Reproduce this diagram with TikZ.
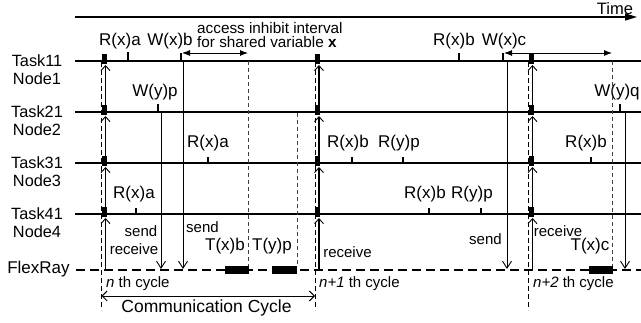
\documentclass[tikz,border=0pt]{standalone}
\usepackage{fontspec}
\setmainfont{Liberation Sans}
\usetikzlibrary{arrows.meta}
\begin{document}
\begin{tikzpicture}[x=1pt,y=-1pt,
  tline/.style={line width=2.3pt},
  tickmark/.style={line width=1.6pt},
  oplbl/.style={font=\fontsize{17}{19}\selectfont, inner sep=0pt, anchor=base},
  sidelbl/.style={font=\fontsize{16.3}{18}\selectfont, inner sep=0pt, anchor=base},
  smalllbl/.style={font=\fontsize{15}{17}\selectfont, inner sep=0pt, anchor=base},
  sendln/.style={line width=0.9pt, -{Straight Barb[length=7pt,width=9pt,line width=0.9pt]}},
  recvln/.style={line width=1.4pt, -{Straight Barb[length=5pt,width=9pt,line width=0.9pt]}},
  ivlend/.style={line width=0.8pt, dash pattern=on 4pt off 3pt, black!75},
  cycline/.style={line width=0.8pt, dash pattern=on 5pt off 3pt},
  ivlarrow/.style={line width=0.9pt, {Latex[length=8pt,width=6pt]}-{Latex[length=8pt,width=6pt]}},
  frame/.style={fill=black}
]
\useasboundingbox (0,0) rectangle (641,323);

% time axis
\coordinate (t0) at (75,17);
\coordinate (t1) at (637,17);
\draw[line width=1.3pt, -{Triangle[length=12pt,width=7pt]}] (t0) -- (t1);
\node[oplbl, font=\fontsize{16.5}{18}\selectfont] (time) at (615,15) {Time};

% task lines and their labels
\foreach \y/\k in {61/1, 112/2, 163/3, 214/4} {
  \coordinate (L\k) at (75,\y);
  \coordinate (R\k) at (641,\y);
  \draw[tline] (L\k) -- (R\k);
  \node[sidelbl] (task\k) at (37,\y+6) {Task\k1};
  \node[sidelbl] (node\k) at (37,\y+24) {Node\k};
}

% FlexRay bus
\coordinate (fl) at (76,270);
\coordinate (fr) at (641,270);
\draw[line width=2pt, dash pattern=on 9pt off 5pt] (fl) -- (fr);
\node[sidelbl, font=\fontsize{17}{19}\selectfont] (flexray) at (38.5,274) {FlexRay};

% cycle boundaries: dashed marker, frame markers and receive arrows
\foreach \c/\n in {104/a, 317.5/b, 531/c} {
  \coordinate (cb\n) at (\c-2.5,62);
  \coordinate (ce\n) at (\c-2.5,310);
  \draw[cycline] (cb\n) -- (ce\n);
  \foreach \y in {61,112,163,214} {
    \fill[frame] (\c-2.5,\y-7) rectangle (\c+2.5,\y+3);
  }
  \coordinate (r0\n) at (\c+1.5,271);
  \coordinate (r4\n) at (\c+1.5,218);
  \coordinate (s4\n) at (\c+1.5,214);
  \coordinate (r3\n) at (\c+1.5,167);
  \coordinate (s3\n) at (\c+1.5,163);
  \coordinate (r2\n) at (\c+1.5,116);
  \coordinate (s2\n) at (\c+1.5,112);
  \coordinate (r1\n) at (\c+1.5,65);
  \draw[recvln] (r0\n) -- (r4\n);
  \draw[recvln] (s4\n) -- (r3\n);
  \draw[recvln] (s3\n) -- (r2\n);
  \draw[recvln] (s2\n) -- (r1\n);
}

% access ticks with their labels
\foreach \lx/\tx/\y/\h/\txt/\nm in {
  120/128/61/9/R(x)a/oa, 170/181/61/8/W(x)b/ob, 454/459/61/8/R(x)b/oc, 504/503/61/8/W(x)c/od,
  155/158/112/8/W(y)p/oe, 617/620/112/8/W(y)q/of,
  208/208/163/6/R(x)a/og, 348/352/163/6/R(x)b/oh, 399/403/163/6/R(y)p/oi, 586/591/163/6/R(x)b/oj,
  134/136/214/6/R(x)a/ok, 425/429/214/6/R(x)b/ol, 472/481/214/6/R(y)p/om} {
  \coordinate (\nm b) at (\tx,\y);
  \coordinate (\nm t) at (\tx,\y-\h);
  \draw[tickmark] (\nm b) -- (\nm t);
  \node[oplbl] (\nm) at (\lx,\y-15) {\txt};
}

% access inhibit intervals for x
\coordinate (ia0) at (181,53);
\coordinate (ia1) at (182,53);
\coordinate (ia2) at (248,53);
\draw[line width=0.9pt] (obt) -- (ia0) -- (ia1);
\draw[ivlarrow] (ia1) -- (ia2);
\coordinate (ib0) at (503,53);
\coordinate (ib1) at (504,53);
\coordinate (ib2) at (612,53);
\draw[line width=0.9pt] (odt) -- (ib0) -- (ib1);
\draw[ivlarrow] (ib1) -- (ib2);
\node[smalllbl, anchor=base west, font=\fontsize{15.3}{17}\selectfont] (inh1) at (197,34) {access inhibit interval};
\node[smalllbl, anchor=base west, font=\fontsize{15.3}{17}\selectfont] (inh2) at (197,48) {for shared variable \textbf{x}};

% interval ends
\foreach \x/\ys/\nm in {248/61/ea, 297/113/eb, 612/61/ec} {
  \coordinate (\nm0) at (\x,\ys);
  \coordinate (\nm1) at (\x,266);
  \draw[ivlend] (\nm0) -- (\nm1);
}

% send arrows onto the bus
\foreach \x/\ys/\nm in {183/61/sa, 161/112/sb, 507/61/sc, 625/112/sd} {
  \coordinate (\nm0) at (\x,\ys);
  \coordinate (\nm1) at (\x,269);
  \draw[sendln] (\nm0) -- (\nm1);
}

% frames on the bus
\fill[frame] (225,266) rectangle (249,274);
\fill[frame] (272,266) rectangle (297,274);
\fill[frame] (589,266) rectangle (613,274);
\node[oplbl] (txb) at (225,251) {T(x)b};
\node[oplbl] (typ) at (272,251) {T(y)p};
\node[oplbl] (txc) at (590,251) {T(x)c};

% send / receive labels
\node[smalllbl] (snd1) at (141,237) {send};
\node[smalllbl] (rcv1) at (134,255) {receive};
\node[smalllbl] (snd2) at (202.5,233) {send};
\node[smalllbl] (rcv2) at (347.5,258) {receive};
\node[smalllbl] (snd3) at (485.5,245) {send};
\node[smalllbl] (rcv3) at (558,237) {receive};

% cycle labels
\node[smalllbl, anchor=base west] (cyn) at (106,288) {\textit{n} th cycle};
\node[smalllbl, anchor=base west] (cyn1) at (319,288) {\textit{n+1} th cycle};
\node[smalllbl, anchor=base west] (cyn2) at (533,288) {\textit{n+2} th cycle};

% communication cycle span
\coordinate (cc0) at (101.5,296);
\coordinate (cc1) at (315,296);
\draw[line width=0.9pt, {Straight Barb[length=5pt,width=10pt]}-{Straight Barb[length=5pt,width=10pt]}] (cc0) -- (cc1);
\node[oplbl, font=\fontsize{17.5}{19}\selectfont] (comm) at (206.5,313) {Communication Cycle};
\end{tikzpicture}
\end{document}
